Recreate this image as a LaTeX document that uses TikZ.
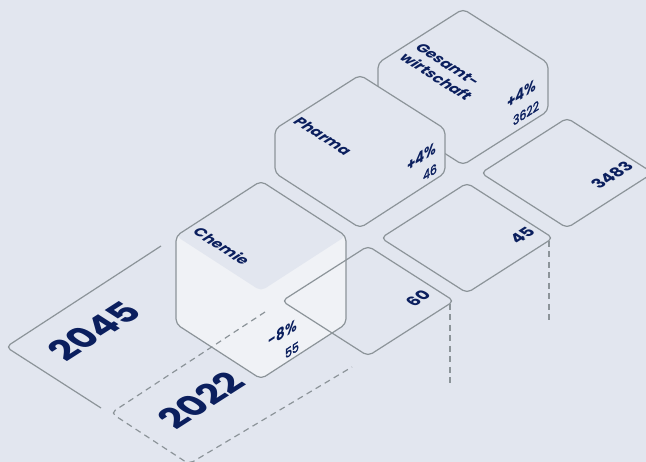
\documentclass[tikz,border=0pt]{standalone}
\usepackage{fontspec}
\setmainfont{Poppins}
\newfontfamily\popsemi{Poppins}[FakeBold=2]
\definecolor{bgc}{HTML}{E2E6EF}
\definecolor{lightc}{HTML}{F0F2F6}
\definecolor{linec}{HTML}{8C9499}
\definecolor{navy}{HTML}{0B1F5E}
\begin{document}
\begin{tikzpicture}[x=1pt,y=-1pt,
  edge/.style={draw=linec, line width=1.2pt, rounded corners=5pt, line join=round},
  dedge/.style={draw=linec, line width=1.2pt, rounded corners=5pt, dash pattern=on 6pt off 4.5pt},
  vdash/.style={draw=linec, line width=1.2pt, dash pattern=on 6pt off 4.5pt},
  gtext/.style={text=navy, inner sep=0pt, transform shape, cm={0.842,0.539,-0.842,0.539,(0,0)}},
  ttext/.style={text=navy, inner sep=0pt, transform shape, cm={0.842,-0.539,0.842,0.539,(0,0)}},
  ftext/.style={text=navy, inner sep=0pt, transform shape, cm={0.842,0.539,0,1,(0,0)}},
  fyear/.style={font=\fontsize{36}{40}\selectfont\bfseries},
  flab/.style={font=\fontsize{15}{18.5}\selectfont\bfseries},
  fplate/.style={font=\fontsize{16.5}{20}\selectfont\bfseries},
  fpct/.style={font=\fontsize{16}{18}\selectfont\bfseries},
  fval/.style={font=\popsemi\fontsize{13}{15}\selectfont}
]
\fill[bgc] (0,0) rectangle (646,462);
\useasboundingbox (0,0) rectangle (646,462);

% 2045 plate (ground)
\coordinate (a1) at (161,246);
\coordinate (a2) at (6,347);
\coordinate (a3) at (101,408);
\draw[edge] (a1) -- (a2) -- (a3);

% Chemie cube (hanging below the 2022 level)
\coordinate (cA) at (261,181);
\coordinate (cUL) at (176,236);
\coordinate (cLL) at (176,324);
\coordinate (cB) at (261,379);
\coordinate (cLR) at (346,324);
\coordinate (cUR) at (346,236);
\coordinate (cT) at (261,291);
\fill[lightc, rounded corners=5pt] (cA) -- (cUR) -- (cLR) -- (cB) -- (cLL) -- (cUL) -- cycle;
\fill[bgc, rounded corners=5pt] (cA) -- (cUR) -- (cT) -- (cUL) -- cycle;

% 2022 plate (ground, dashed)
\coordinate (b1) at (265,312);
\coordinate (b2) at (111,413);
\coordinate (b3) at (189,464);
\coordinate (b4) at (352,367);
\draw[dedge] (b1) -- (b2) -- (b3) -- (b4);

\draw[edge] (cA) -- (cUR) -- (cLR) -- (cB) -- (cLL) -- (cUL) -- cycle;

% 2022 plates
\draw[edge] (282,301) -- (368,246) -- (454,301) -- (368,356) -- cycle;
\draw[edge] (381,238) -- (467,183) -- (553,238) -- (467,293) -- cycle;
\draw[edge] (481,173) -- (567,118) -- (653,173) -- (567,228) -- cycle;

% vertical dashed drops
\coordinate (d60a) at (450,304);
\coordinate (d60b) at (450,387);
\coordinate (d45a) at (549,241);
\coordinate (d45b) at (549,325);
\draw[vdash] (d60a) -- (d60b);
\draw[vdash] (d45a) -- (d45b);

% Gesamtwirtschaft cube
\coordinate (gA) at (463,9);
\coordinate (gUL) at (378,63);
\coordinate (gLL) at (378,111);
\coordinate (gB) at (463,165);
\coordinate (gLR) at (548,111);
\coordinate (gUR) at (548,63);
\filldraw[edge, fill=bgc] (gA) -- (gUR) -- (gLR) -- (gB) -- (gLL) -- (gUL) -- cycle;

% Pharma cube
\coordinate (pA) at (360,75);
\coordinate (pUL) at (275,129);
\coordinate (pLL) at (275,173);
\coordinate (pB) at (360,228);
\coordinate (pLR) at (445,173);
\coordinate (pUR) at (445,129);
\filldraw[edge, fill=bgc] (pA) -- (pUR) -- (pLR) -- (pB) -- (pLL) -- (pUL) -- cycle;

% texts
\node[gtext, fyear] (y2045) at (94,331) {2045};
\node[gtext, fyear] (y2022) at (201,400) {2022};
\node[ttext, flab] (tChemie) at (222,246) {Chemie};
\node[ttext, flab] (tPharma) at (323,136) {Pharma};
\node[ttext, flab, align=left] (tGes) at (444,72) {Gesamt-\\wirtschaft};
\node[ftext, fpct] (pChemie) at (283,333) {-8\%};
\node[ftext, fval] (vChemie) at (292,350) {55};
\node[ftext, fpct] (pPharma) at (422,157) {+4\%};
\node[ftext, fval] (vPharma) at (430,172) {46};
\node[ftext, fpct] (pGes) at (522,94) {+4\%};
\node[ftext, fval] (vGes) at (526,113) {3622};
\node[gtext, fplate] (v60) at (418,298) {60};
\node[gtext, fplate] (v45) at (522,235) {45};
\node[gtext, fplate] (v3483) at (612,175) {3483};
\end{tikzpicture}
\end{document}
